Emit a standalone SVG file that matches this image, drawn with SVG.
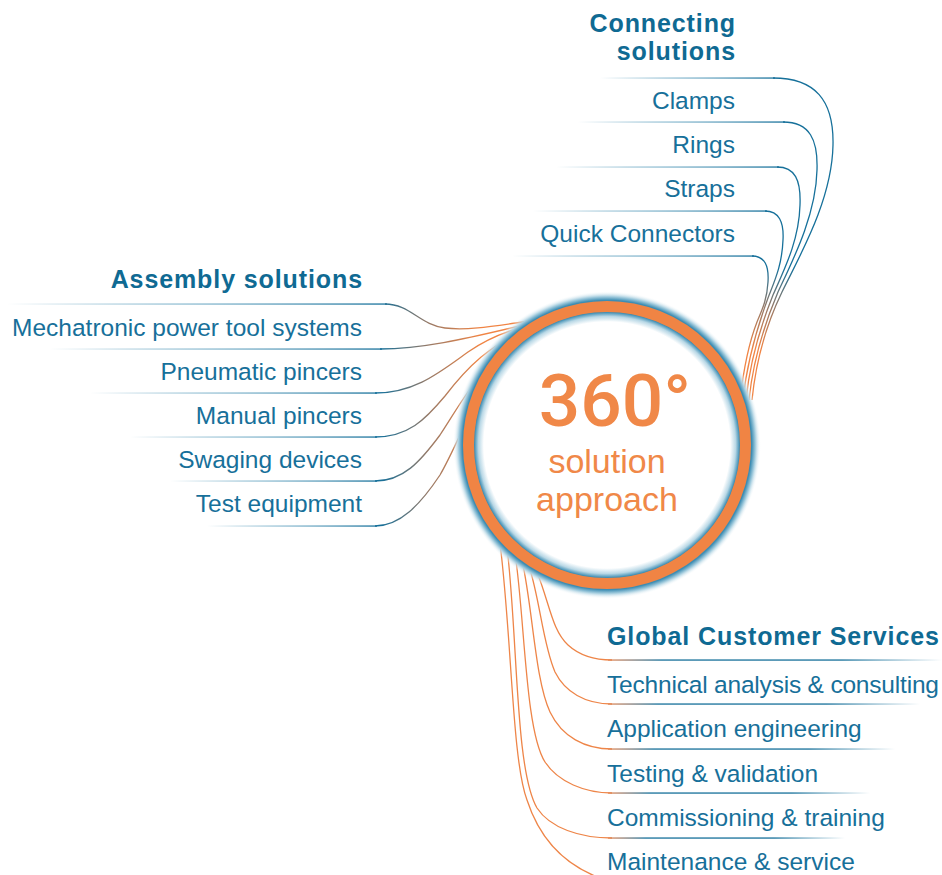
<svg xmlns="http://www.w3.org/2000/svg" width="942" height="875" viewBox="0 0 942 875">
<style>
.item{font-family:"Liberation Sans",Arial,sans-serif;font-size:24.5px;fill:#17709a}
.title{font-family:"Liberation Sans",Arial,sans-serif;font-size:25px;font-weight:bold;fill:#0f6a93;letter-spacing:0.9px}
.end{text-anchor:end}
.ln{fill:none;stroke-width:1.3}
.center{font-family:"Liberation Sans",Arial,sans-serif;fill:#f08848;text-anchor:middle}
</style>
<defs>
<linearGradient id="fadeL" x1="0" y1="0" x2="1" y2="0">
<stop offset="0" stop-color="#2a7fa6" stop-opacity="0"/>
<stop offset="0.45" stop-color="#4f97b8" stop-opacity="0.6"/>
<stop offset="1" stop-color="#16709a"/>
</linearGradient>
<linearGradient id="fadeR" x1="0" y1="0" x2="1" y2="0">
<stop offset="0" stop-color="#e98a55"/>
<stop offset="0.07" stop-color="#8d7f78"/>
<stop offset="0.16" stop-color="#16709a"/>
<stop offset="0.7" stop-color="#16709a"/>
<stop offset="1" stop-color="#16709a" stop-opacity="0"/>
</linearGradient>
<linearGradient id="gConn" gradientUnits="userSpaceOnUse" x1="0" y1="268" x2="0" y2="350">
<stop offset="0" stop-color="#16709a"/>
<stop offset="0.5" stop-color="#9a7a66"/>
<stop offset="1" stop-color="#f08444"/>
</linearGradient>
<linearGradient id="gAsm" gradientUnits="userSpaceOnUse" x1="380" y1="0" x2="480" y2="0">
<stop offset="0" stop-color="#16709a"/>
<stop offset="0.5" stop-color="#9a7a66"/>
<stop offset="1" stop-color="#f08444"/>
</linearGradient>
<radialGradient id="glow" gradientUnits="userSpaceOnUse" cx="607" cy="445" r="154">
<stop offset="0" stop-color="#ffffff"/>
<stop offset="0.80" stop-color="#ffffff"/>
<stop offset="0.835" stop-color="#b9d8e6"/>
<stop offset="0.862" stop-color="#3d8db3"/>
<stop offset="0.94" stop-color="#3d8db3"/>
<stop offset="0.965" stop-color="#a8cfe0"/>
<stop offset="1" stop-color="#ffffff" stop-opacity="0"/>
</radialGradient>
</defs>
<rect width="942" height="875" fill="#ffffff"/>

<g id="connectors">
<!-- Connecting solutions -->
<rect x="600" y="77.4" width="175" height="1.3" fill="url(#fadeL)"/>
<rect x="578" y="121.4" width="207" height="1.3" fill="url(#fadeL)"/>
<rect x="556" y="166.4" width="223" height="1.3" fill="url(#fadeL)"/>
<rect x="533" y="210.4" width="234" height="1.3" fill="url(#fadeL)"/>
<rect x="512" y="255.4" width="242" height="1.3" fill="url(#fadeL)"/>
<path class="ln" stroke="url(#gConn)" d="M773 78 C815 78,834 100,833 145 C832 200,800 255,782 292 C766 325,756 360,752 400"/>
<path class="ln" stroke="url(#gConn)" d="M783 122 C810 122,818 140,817 170 C816 215,793 260,778 292 C764 325,753 360,749 400"/>
<path class="ln" stroke="url(#gConn)" d="M777 167 C795 167,801 180,800 205 C799 240,785 268,773 295 C761 325,750 360,746 400"/>
<path class="ln" stroke="url(#gConn)" d="M765 211 C779 211,784 222,783 240 C782 265,775 280,768 298 C757 328,747 360,743 400"/>
<path class="ln" stroke="url(#gConn)" d="M752 256 C765 256,769 266,768 282 C767 300,762 310,757 322 C750 340,744 365,740 400"/>
<!-- Assembly solutions -->
<rect x="7" y="303.4" width="380" height="1.3" fill="url(#fadeL)"/>
<rect x="50" y="348.4" width="332" height="1.3" fill="url(#fadeL)"/>
<rect x="90" y="392.4" width="287" height="1.3" fill="url(#fadeL)"/>
<rect x="130" y="436.4" width="247" height="1.3" fill="url(#fadeL)"/>
<rect x="170" y="480.4" width="207" height="1.3" fill="url(#fadeL)"/>
<rect x="207" y="525.4" width="170" height="1.3" fill="url(#fadeL)"/>
<path class="ln" stroke="url(#gAsm)" d="M385 304 C410 304,420 325,445 328 C470 331,500 325,537 320"/>
<path class="ln" stroke="url(#gAsm)" d="M380 349 C430 349,480 335,537 322"/>
<path class="ln" stroke="url(#gAsm)" d="M375 393 C415 393,440 372,468 352 C488 338,510 329,537 324"/>
<path class="ln" stroke="url(#gAsm)" d="M375 437 C408 437,425 420,445 396 C465 370,490 342,537 326"/>
<path class="ln" stroke="url(#gAsm)" d="M375 481 C403 481,420 462,440 435 C462 402,485 355,537 328"/>
<path class="ln" stroke="url(#gAsm)" d="M375 526 C400 526,420 505,440 475 C465 432,485 360,537 330"/>
<!-- Global Customer Services -->
<path class="ln" stroke="#ee8548" d="M537 572 C550 605,552 630,568 645 C580 656,595 660,612 660"/>
<path class="ln" stroke="#ee8548" d="M529 566 C540 600,543 645,555 672 C565 692,585 704,612 704"/>
<path class="ln" stroke="#ee8548" d="M522 560 C533 610,535 680,550 712 C562 737,585 749,612 749"/>
<path class="ln" stroke="#ee8548" d="M515 553 C525 620,525 730,545 762 C558 782,585 793,612 793"/>
<path class="ln" stroke="#ee8548" d="M507 547 C518 640,515 770,537 808 C550 828,580 838,612 838"/>
<path class="ln" stroke="#ee8548" d="M500 543 C512 640,512 760,527 800 C540 840,565 865,600 878"/>
<rect x="608" y="659.4" width="334" height="1.3" fill="url(#fadeR)"/>
<rect x="608" y="703.4" width="312" height="1.3" fill="url(#fadeR)"/>
<rect x="608" y="748.4" width="287" height="1.3" fill="url(#fadeR)"/>
<rect x="608" y="792.4" width="262" height="1.3" fill="url(#fadeR)"/>
<rect x="608" y="837.4" width="237" height="1.3" fill="url(#fadeR)"/>
</g>

<g id="center">
<circle cx="607" cy="445" r="154" fill="url(#glow)"/>
<circle cx="607" cy="445" r="138.5" fill="none" stroke="#f08444" stroke-width="11"/>
<text class="center" x="615" y="426" font-size="73" style="font-family:Roboto,'Liberation Sans',sans-serif;font-weight:500">360°</text>
<text class="center" x="607" y="473" font-size="34">solution</text>
<text class="center" x="607" y="511" font-size="34">approach</text>
</g>

<g id="connecting-solutions">
<text class="title end" x="736" y="32">Connecting</text>
<text class="title end" x="736" y="60">solutions</text>
</g>
<g id="clamps"><text class="item end" x="735" y="109">Clamps</text></g>
<g id="rings"><text class="item end" x="735" y="153">Rings</text></g>
<g id="straps"><text class="item end" x="735" y="197">Straps</text></g>
<g id="quick-connectors"><text class="item end" x="735" y="242">Quick Connectors</text></g>

<g id="assembly-solutions"><text class="title end" x="363" y="288">Assembly solutions</text></g>
<g id="mechatronic"><text class="item end" x="362" y="336">Mechatronic power tool systems</text></g>
<g id="pneumatic"><text class="item end" x="362" y="380">Pneumatic pincers</text></g>
<g id="manual"><text class="item end" x="362" y="424">Manual pincers</text></g>
<g id="swaging"><text class="item end" x="362" y="468">Swaging devices</text></g>
<g id="test"><text class="item end" x="362" y="512">Test equipment</text></g>

<g id="global-customer-services"><text class="title" x="607" y="645">Global Customer Services</text></g>
<g id="technical"><text class="item" x="607" y="693" textLength="332">Technical analysis &amp; consulting</text></g>
<g id="application"><text class="item" x="607" y="737">Application engineering</text></g>
<g id="testing"><text class="item" x="607" y="782">Testing &amp; validation</text></g>
<g id="commissioning"><text class="item" x="607" y="826">Commissioning &amp; training</text></g>
<g id="maintenance"><text class="item" x="607" y="870">Maintenance &amp; service</text></g>
</svg>
